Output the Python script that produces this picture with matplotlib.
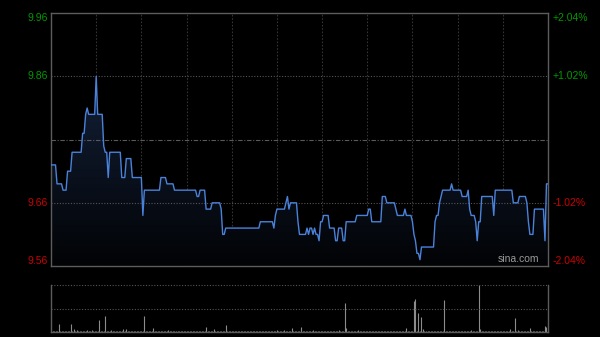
import numpy as np
import matplotlib.pyplot as plt
from matplotlib.colors import LinearSegmentedColormap

plt.rcParams['font.family'] = ['Liberation Sans', 'DejaVu Sans']

# Intraday price: minute at which the price changes, and the new price level
change_minute = [0, 4, 8, 11, 14, 21, 23, 24, 25, 30, 31, 35, 36, 38, 39, 47, 50, 54,
                 61, 62, 73, 77, 82, 97, 99, 103, 107, 113, 114, 116, 139, 148, 149,
                 150, 156, 157, 158, 159, 164, 165, 170, 171, 172, 174, 175, 176, 178,
                 179, 181, 185, 189, 191, 194, 196, 203, 211, 213, 220, 223, 229, 230,
                 235, 236, 240, 241, 242, 243, 245, 246, 255, 256, 258, 259, 260, 266,
                 267, 273, 277, 278, 279, 282, 283, 284, 286, 294, 295, 307, 311, 316,
                 317, 318, 321, 328, 329]
price_level = [9.72, 9.69, 9.68, 9.71, 9.74, 9.77, 9.80, 9.81, 9.80, 9.86, 9.80, 9.75,
               9.74, 9.70, 9.74, 9.70, 9.73, 9.70, 9.64, 9.68, 9.70, 9.69, 9.68, 9.67,
               9.68, 9.65, 9.66, 9.65, 9.61, 9.62, 9.63, 9.62, 9.64, 9.65, 9.66, 9.67,
               9.65, 9.66, 9.63, 9.61, 9.62, 9.61, 9.62, 9.61, 9.62, 9.61, 9.60, 9.63,
               9.64, 9.62, 9.60, 9.62, 9.60, 9.63, 9.64, 9.65, 9.63, 9.67, 9.66, 9.65,
               9.64, 9.65, 9.64, 9.63, 9.61, 9.60, 9.58, 9.57, 9.59, 9.63, 9.64, 9.66,
               9.67, 9.68, 9.69, 9.68, 9.67, 9.68, 9.65, 9.64, 9.63, 9.60, 9.63, 9.67,
               9.64, 9.68, 9.66, 9.67, 9.66, 9.63, 9.61, 9.65, 9.60, 9.69]
n_minutes = 331
prev_close = 9.76

# Volume (thousand shares): spikes, everything else sits at a small base level
base_volume = 15
spike_minute = [5, 13, 15, 17, 24, 27, 32, 36, 40, 48, 50, 62, 68, 78, 103, 108, 116,
                150, 155, 160, 166, 174, 191, 195, 196, 204, 236, 241, 242, 244, 246,
                247, 261, 279, 284, 285, 305, 308, 310, 318, 328, 329]
spike_volume = [99, 99, 35, 25, 25, 30, 150, 200, 25, 40, 35, 200, 55, 20, 65, 35, 90,
                28, 30, 55, 65, 25, 20, 373, 50, 30, 55, 400, 415, 245, 193,
                35, 407, 20, 600, 35, 35, 176, 25, 55, 77, 70]

left_ticks = [9.96, 9.86, 9.66, 9.56]
left_labels = ['9.96', '9.86', '9.66', '9.56']
right_labels = ['+2.04%', '+1.02%', '-1.02%', '-2.04%']
up_color = '#009900'
down_color = '#cc0000'

durations = np.diff(change_minute + [n_minutes])
price = np.repeat(price_level, durations)
minutes = np.arange(n_minutes)
volume = np.full(n_minutes, base_volume, dtype=float)
volume[spike_minute] = spike_volume

fig = plt.figure(figsize=(6, 3.37), dpi=100, facecolor='black')
ax = fig.add_axes([0.085, 0.2107, 0.8283, 0.750], facecolor='black')
axv = fig.add_axes([0.085, 0.0148, 0.8283, 0.1395], facecolor='black')

ymin, ymax = 9.56, 9.96

# gradient fill under the price line
poly = ax.fill_between(minutes, price, ymin, color='none', lw=0)
cmap = LinearSegmentedColormap.from_list('fill', ['#020305', '#132038'])
grad = np.linspace(0, 1, 256).reshape(-1, 1)
im = ax.imshow(grad, cmap=cmap, aspect='auto', origin='lower',
               extent=[0, n_minutes - 1, ymin, price.max()], zorder=1)
im.set_clip_path(poly.get_paths()[0], transform=ax.transData)
ax.plot(minutes, price, color='#4a82da', lw=1.0, zorder=3)

ax.set_xlim(0, n_minutes - 1)
ax.set_ylim(ymin, ymax)

# grid
for m in range(30, 330, 30):
    ax.axvline(m, color='#333333', lw=0.8, ls=(0, (1.5, 1.5)), zorder=0)
for p in [9.86, 9.66]:
    ax.axhline(p, color='#555555', lw=0.8, ls=(0, (1, 1.5)), zorder=2)
ax.axhline(prev_close, color='#5a5a5a', lw=0.8, ls=(0, (4, 1.5, 1, 1.5)), zorder=2)

ax.set_xticks([])
ax.set_yticks([])
for s in ax.spines.values():
    s.set_color('#5c5c5c')
    s.set_linewidth(1)

vas = ['top', 'center', 'center', 'bottom']
for t, ll, rl, va in zip(left_ticks, left_labels, right_labels, vas):
    c = up_color if t > prev_close else down_color
    ax.text(-0.006, t, ll, color=c, fontsize=7.5, ha='right', va=va,
            transform=ax.get_yaxis_transform())
    ax.text(1.01, t, rl, color=c, fontsize=7.5, ha='left', va=va,
            transform=ax.get_yaxis_transform())

ax.text(0.94, 0.008, 'sina.com', color='#9a9a9a', fontsize=7.5, ha='center',
        va='bottom', transform=ax.transAxes, zorder=4)

# volume panel
axv.vlines(minutes, 0, volume, color='#8c8c8c', lw=0.8)
axv.set_xlim(0, n_minutes - 1)
vmax = volume.max()
axv.set_ylim(0, vmax)
axv.axhline(vmax / 2, color='#555555', lw=0.8, ls=(0, (1, 1.5)))
axv.axhline(vmax, color='#555555', lw=0.8, ls=(0, (1, 1.5)), clip_on=False)
axv.set_xticks([])
axv.set_yticks([])
axv.spines['top'].set_visible(False)
for k in ['left', 'right', 'bottom']:
    axv.spines[k].set_color('#5c5c5c')
    axv.spines[k].set_linewidth(1)

fig.savefig('out.png', dpi=100, facecolor='black')
